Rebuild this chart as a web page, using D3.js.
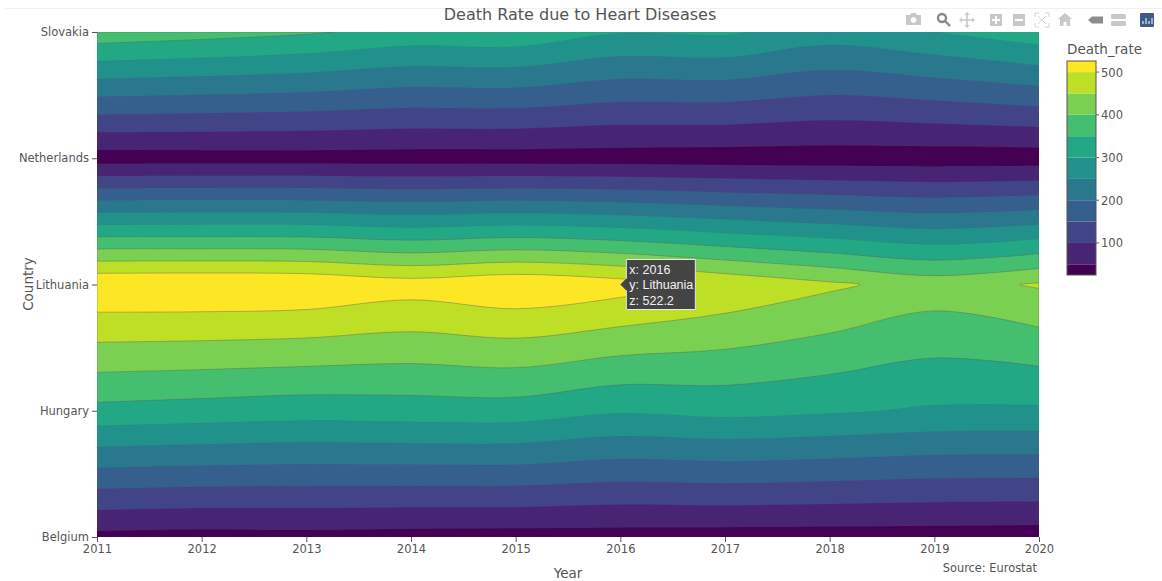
<!DOCTYPE html>
<html><head><meta charset="utf-8">
<script src="https://d3js.org/d3.v7.min.js"></script>
<style>html,body{margin:0;padding:0;background:#fff}svg{display:block}</style>
</head><body><svg id="c" width="1162" height="581"></svg>
<script>
const years = [2011,2012,2013,2014,2015,2016,2017,2018,2019,2020];
const countries = ["Belgium","Hungary","Lithuania","Netherlands","Slovakia"];
const belgium     = [36,32,34,30.5,29.5,29,28,27,26,24.5];
const hungary     = [336,329,322,326,327,305.5,314.7,306,294,293];
const lithuania   = [546,547,544,524,541,522.2,490,459,428,455];
const netherlands = [27,28,29,28,28,27,25,24,24,24];
const slovakia    = [382,370,356,333,336,303,307,276,300,332];
const levels = [50,100,150,200,250,300,350,400,450,500];
const cbTicks = [100,200,300,400,500];
const zRange = [25,526];
const titleText = "Death Rate due to Heart Diseases";
const hover = {year:2016, country:"Lithuania", z:522.2};

const font = 'DejaVu Sans, Verdana, sans-serif';
const ink = '#555';
const svg = d3.select('#c');
const M = {l:97,r:1039,t:32,b:537};
const x = d3.scalePoint().domain(years).range([M.l,M.r]);
const y = d3.scalePoint().domain(countries).range([M.b,M.t]);
const xi = d3.scaleLinear().domain([0,years.length-1]).range([M.l,M.r]);
const yi = d3.scaleLinear().domain([0,countries.length-1]).range([M.b,M.t]);
const rows = [belgium,hungary,lithuania,netherlands,slovakia];
const flat = rows.flat();
const bandColor = i => d3.interpolateViridis(i/levels.length);

svg.append('line').attr('x1',5).attr('x2',1162).attr('y1',8.5).attr('y2',8.5).attr('stroke','#f0f0f0');

svg.append('clipPath').attr('id','plot').append('rect')
  .attr('x',M.l).attr('y',M.t).attr('width',M.r-M.l).attr('height',M.b-M.t);
const g = svg.append('g').attr('clip-path','url(#plot)');
g.append('rect').attr('x',M.l).attr('y',M.t).attr('width',M.r-M.l).attr('height',M.b-M.t).attr('fill',bandColor(0));

const contours = d3.contours().size([years.length,countries.length]).thresholds(levels)(flat);
const openLine = d3.line().curve(d3.curveCatmullRom.alpha(0.5));
const closedLine = d3.line().curve(d3.curveCatmullRomClosed.alpha(0.5));
const maxX = years.length-1, maxY = countries.length-1;
const clampX = v => Math.max(0,Math.min(maxX,v-0.5));
const clampY = v => Math.max(0,Math.min(maxY,v-0.5));
const onEdge = p => p[0]<=0||p[0]>=maxX||p[1]<=0||p[1]>=maxY;
const toPx = p => [xi(p[0]),yi(p[1])];
function ringPath(ring){
  const pts=[];
  ring.slice(0,-1).forEach(p=>{
    const q=[clampX(p[0]),clampY(p[1])];
    const l=pts[pts.length-1];
    if(!l||Math.hypot(l[0]-q[0],l[1]-q[1])>1e-4) pts.push(q);
  });
  if(pts.length<3) return '';
  const start=pts.findIndex(onEdge);
  if(start<0) return closedLine(pts.map(toPx));
  const seq=pts.slice(start).concat(pts.slice(0,start),[pts[start]]);
  let d='M'+toPx(seq[0]).join(',');
  let run=[seq[0]];
  for(let i=1;i<seq.length;i++){
    run.push(seq[i]);
    if(onEdge(seq[i])){
      if(run.length===2) d+='L'+toPx(seq[i]).join(',');
      else d+=openLine(run.map(toPx)).replace(/^M[^C]*/,'');
      run=[seq[i]];
    }
  }
  return d+'Z';
}
contours.forEach((c,i)=>{
  const d=c.coordinates.map(poly=>poly.map(ringPath).join('')).join('');
  g.append('path').attr('d',d).attr('fill',bandColor(i+1)).attr('fill-rule','evenodd')
   .attr('stroke','#5a5a5a').attr('stroke-opacity',c.value>=350?0.5:0.12).attr('stroke-width',0.8);
});

function styleAxis(a){
  a.select('.domain').remove();
  a.selectAll('line').attr('stroke','#555').attr('stroke-width',1);
  a.selectAll('text').attr('fill',ink).style('font-family',font).style('font-size','11.5px');
}
svg.append('g').attr('transform',`translate(0,${M.b})`)
  .call(d3.axisBottom(x).tickSize(5).tickPadding(3).tickFormat(d3.format('d'))).call(styleAxis);
svg.append('g').attr('transform',`translate(${M.l},0)`)
  .call(d3.axisLeft(y).tickSize(5).tickPadding(3)).call(styleAxis);

const label=(t,xp,yp,size,anchor='middle')=>svg.append('text').text(t).attr('x',xp).attr('y',yp)
  .attr('text-anchor',anchor).attr('fill',ink).style('font-family',font).style('font-size',size+'px');
label(titleText,580,20,16);
label('Year',568,578,13.5);
label('Country',0,0,13.5).attr('transform','translate(33,284) rotate(-90)');
label('Source: Eurostat',1037,572,11.4,'end');
label('Death_rate',1067,54,13.5,'start');

const cb = {x:1067,w:29,t:61,b:275};
const cy = d3.scaleLinear().domain(zRange).range([cb.b,cb.t]);
const edges=[zRange[0],...levels,zRange[1]];
const cg=svg.append('g');
d3.pairs(edges).forEach(([a,b],i)=>{
  cg.append('rect').attr('x',cb.x).attr('width',cb.w).attr('y',cy(b)).attr('height',cy(a)-cy(b))
    .attr('fill',bandColor(i));
});
cg.append('rect').attr('x',cb.x).attr('y',cb.t).attr('width',cb.w).attr('height',cb.b-cb.t)
  .attr('fill','none').attr('stroke','#555').attr('stroke-width',1);
cbTicks.forEach(v=>{
  cg.append('line').attr('x1',cb.x+cb.w).attr('x2',cb.x+cb.w+3).attr('y1',cy(v)).attr('y2',cy(v)).attr('stroke','#666');
  label(v,cb.x+cb.w+5,cy(v)+4.5,11.5,'start');
});

const hx=x(hover.year), hy=y(hover.country);
const tip=svg.append('g').attr('transform',`translate(${hx},${hy})`);
tip.append('path').attr('d','M0,0L6,-6V-25H75V25H6V6Z').attr('fill','#444').attr('stroke','#e8e8e8').attr('stroke-width',1);
tip.append('path').attr('d','M0,0L6,-6V6Z').attr('fill','#444');
[`x: ${hover.year}`,`y: ${hover.country}`,`z: ${hover.z}`].forEach((t,i)=>{
  tip.append('text').text(t).attr('x',9).attr('y',-11+i*15.5).attr('fill','#f2f2f2')
    .style('font-family','Liberation Sans, Arial, sans-serif').style('font-size','12.5px');
});

const mb=svg.append('g').attr('fill','#c8c8c8');
mb.append('path').attr('d','M906,15h4l1.5,-2h4l1.5,2h4v10h-15z M913.5,17a3,3 0 1,0 .01,0z').attr('fill-rule','evenodd');
mb.append('circle').attr('cx',942).attr('cy',18).attr('r',4).attr('fill','none').attr('stroke','#8a8a8a').attr('stroke-width',2.4);
mb.append('line').attr('x1',945).attr('y1',21).attr('x2',950).attr('y2',26).attr('stroke','#8a8a8a').attr('stroke-width',2.4);
mb.append('path').attr('d','M967,13v14M960,20h14').attr('stroke','#c8c8c8').attr('stroke-width',1.6).attr('fill','none');
mb.append('path').attr('d','M967,12l-2.5,3h5zM967,28l-2.5,-3h5zM959,20l3,-2.5v5zM975,20l-3,-2.5v5z');
mb.append('path').attr('d','M990,14h12v12h-12z M995,16v3h-3v2h3v3h2v-3h3v-2h-3v-3z').attr('fill-rule','evenodd');
mb.append('path').attr('d','M1013,14h12v12h-12z M1015,19v2h8v-2z').attr('fill-rule','evenodd');
mb.append('path').attr('d','M1035,17v-4h4M1045,13h4v4M1049,23v4h-4M1039,27h-4v-4M1038,16l8,8M1046,16l-8,8').attr('stroke','#d4d4d4').attr('stroke-width',1).attr('fill','none');
mb.append('path').attr('d','M1065,13l7,6h-2v7h-3.5v-4h-3v4h-3.5v-7h-2z');
mb.append('path').attr('d','M1088,20l4,-3.5h11v7h-11z').attr('fill','#8c8c8c');
mb.append('rect').attr('x',1111).attr('y',14).attr('width',15).attr('height',5).attr('rx',1.5);
mb.append('rect').attr('x',1111).attr('y',21).attr('width',15).attr('height',5).attr('rx',1.5);
mb.append('rect').attr('x',1140).attr('y',13).attr('width',14).attr('height',14).attr('rx',1).attr('fill','#3d5a8a');
mb.append('path').attr('d','M1143,24v-3M1146,24v-6M1149,24v-3M1152,24v-6').attr('stroke','#dfe6f0').attr('stroke-width',1.2).attr('fill','none');
</script></body></html>
